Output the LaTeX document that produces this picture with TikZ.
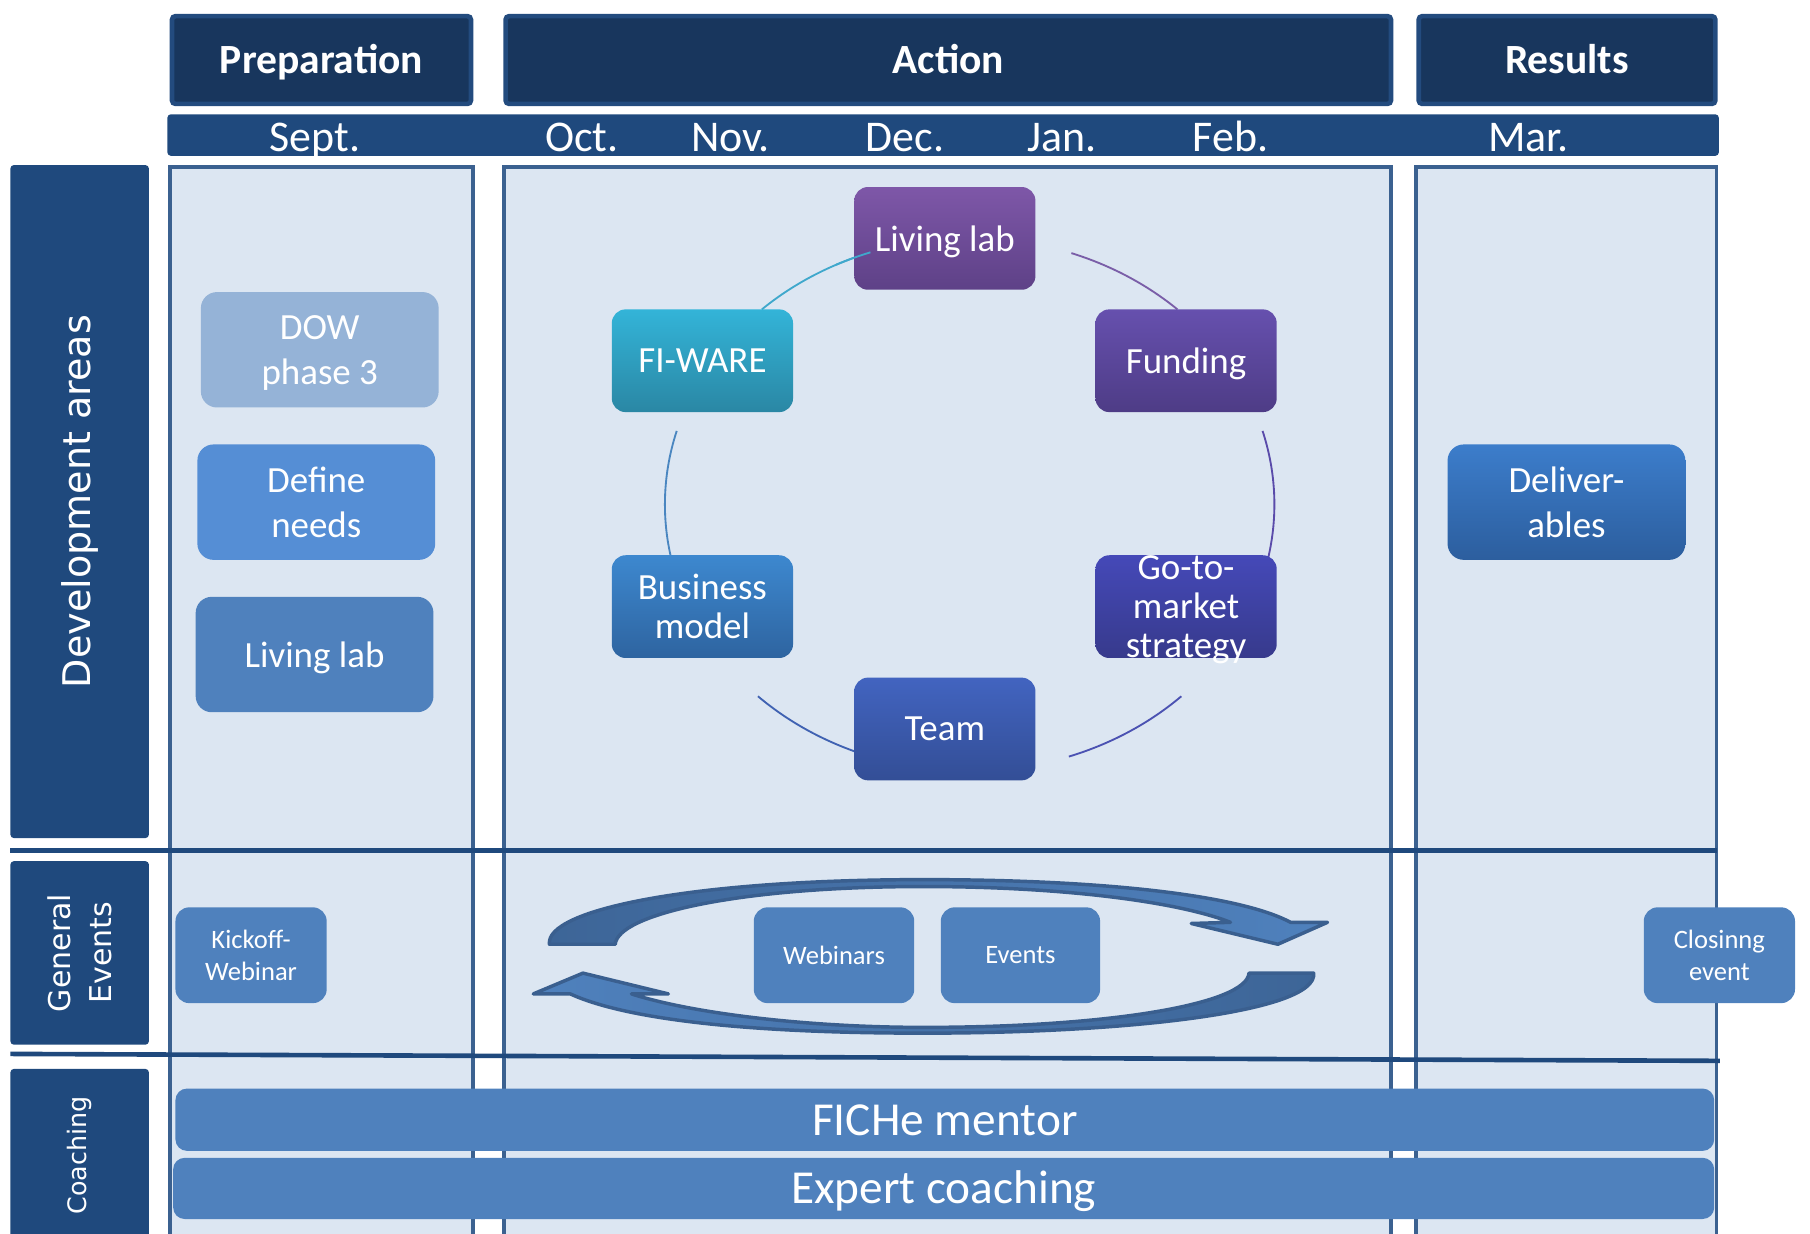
\documentclass[tikz,border=0pt]{standalone}
\usepackage{fontspec}
\setmainfont{Carlito}
\newfontfamily\dvsans{DejaVu Sans}
\usetikzlibrary{calc}
\definecolor{hdrfill}{HTML}{18365D}
\definecolor{hdrline}{HTML}{234B7E}
\definecolor{navy}{HTML}{1F497D}
\definecolor{panelfill}{HTML}{DCE6F2}
\definecolor{panelline}{HTML}{3B6190}
\definecolor{acc}{HTML}{4F81BD}
\definecolor{dowc}{HTML}{95B3D7}
\definecolor{needc}{HTML}{558ED5}
\definecolor{arrline}{HTML}{3A5F8F}
\definecolor{arrdark}{HTML}{3D6597}
\definecolor{arcA}{HTML}{40A8CC}
\definecolor{arcB}{HTML}{7A5EA8}
\definecolor{arcC}{HTML}{5A4BAA}
\definecolor{arcD}{HTML}{4B52B2}
\definecolor{arcE}{HTML}{4062B2}
\definecolor{arcF}{HTML}{4A86C0}
\definecolor{delT}{HTML}{3C7DCB}
\definecolor{delB}{HTML}{2C5E9E}
\definecolor{llT}{HTML}{7E57A8}
\definecolor{llB}{HTML}{5E4187}
\definecolor{fuT}{HTML}{6650AE}
\definecolor{fuB}{HTML}{4E3C86}
\definecolor{gtT}{HTML}{4549B8}
\definecolor{gtB}{HTML}{373A8C}
\definecolor{teT}{HTML}{4264C0}
\definecolor{teB}{HTML}{334E96}
\definecolor{bmT}{HTML}{3D88CF}
\definecolor{bmB}{HTML}{2E64A0}
\definecolor{fiT}{HTML}{33B4D8}
\definecolor{fiB}{HTML}{2A87A4}
\begin{document}
\begin{tikzpicture}[x=1pt,y=-1pt,
  hdr/.style={draw=hdrline,line width=4pt,fill=hdrfill,rounded corners=3pt,text=white,
    font=\fontsize{36}{40}\selectfont\bfseries,inner sep=0pt,text height=23pt,text depth=0pt},
  month/.style={text=white,font=\fontsize{38}{44}\selectfont,anchor=base,inner sep=0pt},
  rowlab/.style={fill=navy,rounded corners=3pt,text=white,rotate=90,inner sep=0pt,align=center},
  panel/.style={draw=panelline,line width=3.4pt,fill=panelfill},
  sep/.style={draw=navy,line width=4pt},
  pbox/.style={rounded corners=14pt,text=white,align=center,inner sep=0pt,text depth=0pt,
    minimum width=206pt,minimum height=100pt,font=\fontsize{32}{39}\selectfont},
  cbox/.style={rounded corners=12pt,text=white,align=center,inner sep=0pt,text depth=0pt,
    minimum width=157pt,minimum height=89pt,font=\fontsize{32}{34}\selectfont},
  ebox/.style={rounded corners=12pt,fill=acc,text=white,align=center,inner sep=0pt,
    minimum height=83pt,font=\fontsize{23}{28}\selectfont},
  bar/.style={rounded corners=10pt,fill=acc,text=white,inner sep=0pt,
    font=\fontsize{41}{48}\selectfont,text height=27pt,text depth=0pt},
  ring/.style={line width=1.6pt},
  bigarrow/.style={draw=arrline,line width=3pt,line join=round}
]
\useasboundingbox (0,0) rectangle (1568,1069);

% column panels
\path[panel] (147,145) rectangle (410,1080);
\path[panel] (437,145) rectangle (1205,1080);
\path[panel] (1227,145) rectangle (1487,1080);

% separators
\draw[sep] (9,737) -- (1487,737);
\draw[sep] (9,913) -- (1490,919);

% headers
\node[hdr,minimum width=259pt,minimum height=76pt] (prep) at (278.5,52) {Preparation};
\node[hdr,minimum width=767pt,minimum height=76pt] (act) at (821.5,52) {Action};
\node[hdr,minimum width=257pt,minimum height=76pt] (res) at (1357.5,52) {Results};

% month bar
\path[fill=navy,rounded corners=3pt] (145,99) rectangle (1489,135);
\node[month] (m9) at (273,131) {Sept.};
\node[month] (m10) at (504,131) {Oct.};
\node[month] (m11) at (633,131) {Nov.};
\node[month] (m12) at (784,131) {Dec.};
\node[month] (m1) at (920,131) {Jan.};
\node[month] (m2) at (1066,131) {Feb.};
\node[month] (m3) at (1324,131) {Mar.};

% row labels
\node[rowlab,minimum width=583pt,minimum height=120pt,font=\dvsans\fontsize{33}{40}\selectfont]
  (dev) at (69,434.5) {Development areas};
\node[rowlab,minimum width=159pt,minimum height=120pt,font=\dvsans\fontsize{26}{36}\selectfont]
  (gen) at (69,825.5) {General\\Events};
\node[rowlab,minimum width=150pt,minimum height=120pt,font=\dvsans\fontsize{22}{26}\selectfont]
  (coach) at (69,1001) {Coaching};

% preparation boxes
\node[pbox,fill=dowc] (dow) at (277,303) {DOW\\phase 3};
\node[pbox,fill=needc] (needs) at (274,435) {Define\\needs};
\node[pbox,fill=acc] (llprep) at (272.5,567) {Living lab};

% results box
\node[pbox,top color=delT,bottom color=delB] (deliv) at (1357,435) {Deliver-\\ables};

% ring arcs
\coordinate (cc) at (840,437);
\draw[ring,draw=arcA] plot[smooth,domain=-133:-109,samples=25] ({840+264*cos(\x)},{437+231*sin(\x)});
\draw[ring,draw=arcB] plot[smooth,domain=-70.5:-47,samples=25] ({840+264*cos(\x)},{437+231*sin(\x)});
\draw[ring,draw=arcC] plot[smooth,domain=-16:12,samples=25] ({840+264*cos(\x)},{437+231*sin(\x)});
\draw[ring,draw=arcD] plot[smooth,domain=46:71,samples=25] ({840+264*cos(\x)},{437+231*sin(\x)});
\draw[ring,draw=arcE] plot[smooth,domain=112:134,samples=25] ({840+264*cos(\x)},{437+231*sin(\x)});
\draw[ring,draw=arcF] plot[smooth,domain=169:196,samples=25] ({840+264*cos(\x)},{437+231*sin(\x)});

% action cycle boxes
\node[cbox,top color=llT,bottom color=llB] (ll) at (818.5,206.5) {Living lab};
\node[cbox,top color=fuT,bottom color=fuB] (fund) at (1027.5,312.5) {Funding};
\node[cbox,top color=gtT,bottom color=gtB] (gtm) at (1027.5,525.5) {Go-to-\\market\\strategy};
\node[cbox,top color=teT,bottom color=teB] (team) at (818.5,631.5) {Team};
\node[cbox,top color=bmT,bottom color=bmB] (bm) at (608.5,525.5) {Business\\model};
\node[cbox,top color=fiT,bottom color=fiB] (fiware) at (608.5,312.5) {FI-WARE};
\draw[ring,draw=arcA] plot[smooth,domain=-116:-109,samples=8] ({840+264*cos(\x)},{437+231*sin(\x)});

% general events circular arrows
\path[bigarrow,left color=arrdark,right color=acc]
  (476,818) .. controls (472,788) and (600,762) .. (800,762)
  .. controls (960,762) and (1075,776) .. (1118,799)
  -- (1150,799) -- (1107,818) -- (1032,800) -- (1066,799)
  .. controls (1020,781) and (920,768) .. (800,768)
  .. controls (640,768) and (535,792) .. (533,818) -- cycle;
\path[bigarrow,left color=acc,right color=arrdark]
  (1138,843) .. controls (1142,876) and (980,895) .. (800,895)
  .. controls (640,895) and (540,882) .. (494,861)
  -- (462,861) -- (505,843) -- (579,861) -- (547,861)
  .. controls (600,878) and (700,890) .. (800,890)
  .. controls (960,890) and (1080,870) .. (1082,843) -- cycle;

% general events boxes
\node[ebox,minimum width=131pt] (kick) at (217.5,827.5) {Kickoff-\\Webinar};
\node[ebox,minimum width=139pt] (web) at (722.5,827.5) {Webinars};
\node[ebox,minimum width=138pt] (evt) at (884,827.5) {Events};
\node[ebox,minimum width=131pt] (close) at (1489.5,827.5) {Closinng\\event};

% coaching bars
\node[bar,minimum width=1333pt,minimum height=54pt] (fiche) at (818.5,970) {FICHe mentor};
\node[bar,minimum width=1335pt,minimum height=53pt] (expert) at (817.5,1029.5) {Expert coaching};
\end{tikzpicture}
\end{document}
